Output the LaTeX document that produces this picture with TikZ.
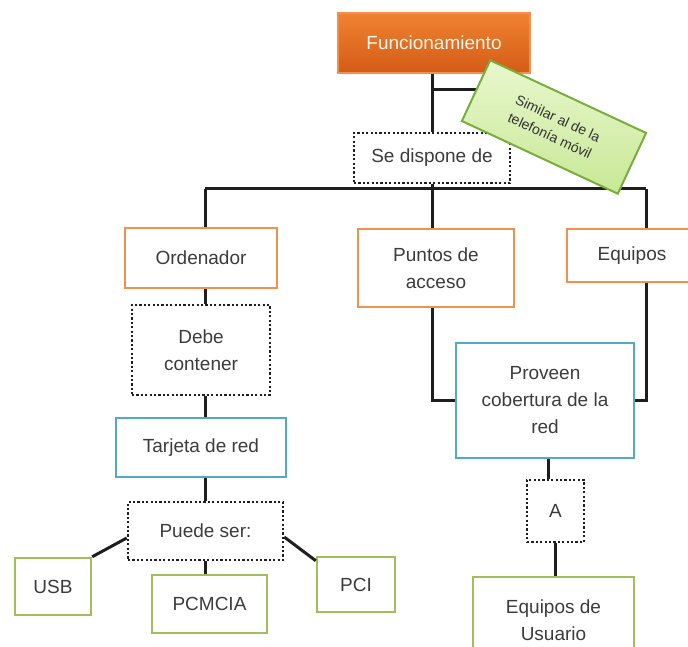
\documentclass[tikz,border=0pt]{standalone}
\usepackage{fontspec}
\setmainfont{Liberation Sans}
\definecolor{txt}{RGB}{60,60,60}
\definecolor{orng}{RGB}{240,145,80}
\definecolor{blu}{RGB}{80,170,200}
\definecolor{grn}{RGB}{160,190,90}
\definecolor{lin}{RGB}{30,30,30}
\begin{document}
\begin{tikzpicture}[x=1pt,y=1pt,
  every node/.style={inner sep=0pt,align=center,text=txt,font=\fontsize{19}{27}\selectfont,line width=2.5pt},
  orangebox/.style={draw=orng,fill=white},
  bluebox/.style={draw=blu,fill=white},
  greenbox/.style={draw=grn,fill=white},
  dotbox/.style={draw=lin,fill=white,dash pattern=on 2.2pt off 2.2pt}]
\clip (0,0) rectangle (688,-647);
\fill[white] (0,0) rectangle (688,-647);
\coordinate (busL) at (205,-189);
\coordinate (busM) at (432,-189);
\coordinate (busR) at (646,-189);
\coordinate (fork) at (432,-90);
\node[draw=orng,top color={rgb,255:red,240;green,130;blue,50},bottom color={rgb,255:red,212;green,92;blue,22},text=white!92!orange,minimum width=192,minimum height=60] (func) at (434,-43) {Funcionamiento};
\node[dotbox,minimum width=156,minimum height=50] (disp) at (432,-158) {Se dispone de};
\node[orangebox,minimum width=152,minimum height=60] (orden) at (201,-258) {Ordenador};
\node[orangebox,minimum width=156,minimum height=78] (puntos) at (436,-268) {Puntos de\\acceso};
\node[orangebox,minimum width=130,minimum height=53] (equipos) at (632,-255.5) {Equipos};
\node[dotbox,minimum width=138,minimum height=90] (debe) at (201,-350) {Debe\\contener};
\node[bluebox,minimum width=170,minimum height=59] (tarjeta) at (201,-447.5) {Tarjeta de red};
\node[dotbox,minimum width=155,minimum height=58] (puede) at (205.5,-531) {Puede ser:};
\node[greenbox,minimum width=76,minimum height=57] (usb) at (53,-586.5) {USB};
\node[greenbox,minimum width=115,minimum height=58] (pcmcia) at (209.5,-604) {PCMCIA};
\node[greenbox,minimum width=78,minimum height=55] (pci) at (356,-584.5) {PCI};
\node[bluebox,minimum width=178,minimum height=115] (proveen) at (545,-400.5) {Proveen\\cobertura de la\\red};
\node[dotbox,minimum width=57,minimum height=62] (a) at (555.5,-511) {A};
\node[greenbox,minimum width=161,minimum height=86] (usuario) at (553.5,-620) {Equipos de\\Usuario};
\begin{scope}[draw=lin,line width=3pt]
\draw (func.south -| fork) -- (disp.north -| fork);
\draw (fork) -- (fork -| 476,0);
\draw (disp.south -| fork) -- (busM);
\draw (busL) -- (busR);
\draw (busL) -- (busL |- orden.north);
\draw (busM) -- (busM |- puntos.north);
\draw (busR) -- (busR |- equipos.north);
\draw (orden.south -| busL) -- (debe.north -| busL);
\draw (debe.south -| busL) -- (tarjeta.north -| busL);
\draw (tarjeta.south -| busL) -- (puede.north -| busL);
\draw (busM |- puntos.south) |- (proveen.west);
\draw (busR |- equipos.south) |- (proveen.east);
\draw (proveen.south -| 548,0) -- (a.north -| 548,0);
\draw (a.south -| 555,0) -- (usuario.north -| 555,0);
\draw ([yshift=-7pt]puede.west) -- (usb.north east);
\draw ([yshift=-6pt]puede.east) -- ([yshift=-5pt]pci.north west);
\draw (puede.south -| busL) -- (pcmcia.north -| busL);
\end{scope}
\node[draw={rgb,255:red,120;green,175;blue,60},top color={rgb,255:red,232;green,247;blue,205},bottom color={rgb,255:red,200;green,232;blue,150},line width=2pt,rotate=-25,minimum width=172,minimum height=67,font=\fontsize{14}{19}\selectfont,text=black!80] (note) at (554,-127) {Similar al de la\\telefonía móvil};
\end{tikzpicture}
\end{document}
